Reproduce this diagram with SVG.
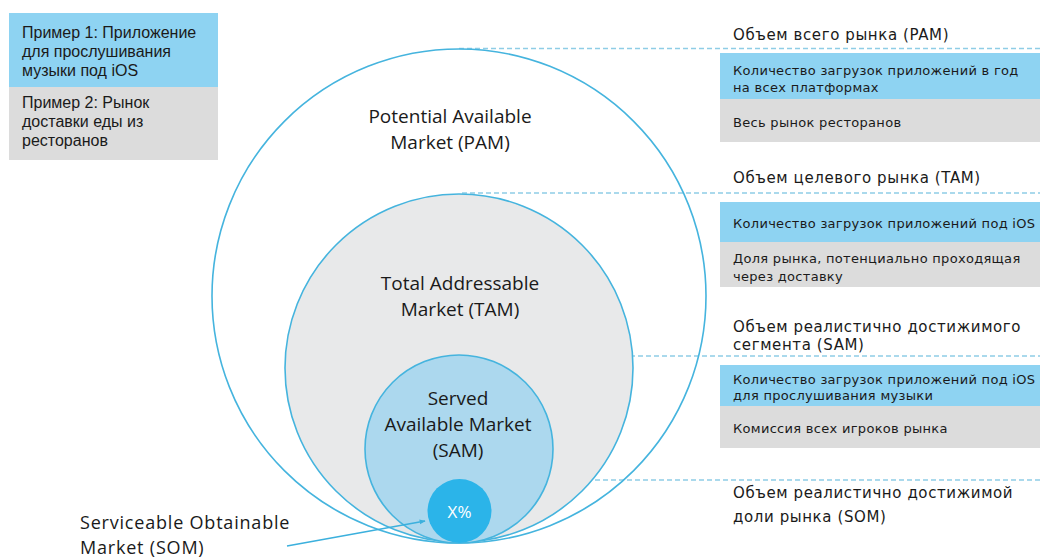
<svg xmlns="http://www.w3.org/2000/svg" width="1040" height="557" viewBox="0 0 1040 557">
<defs>
<style>
.t{font-family:"Open Sans","DejaVu Sans",sans-serif;fill:#1a1a1a}
.r{font-family:"DejaVu Sans","Open Sans",sans-serif;fill:#1a1a1a}
.big{font-size:19px}
.leg{font-family:"Liberation Sans","DejaVu Sans",sans-serif;font-size:16px;fill:#1a1a1a}
.hd{font-size:15px;letter-spacing:0.6px}
.bx{font-size:13px;letter-spacing:0.3px}
.dash{stroke:#8fcde6;stroke-width:1.5;stroke-dasharray:5 3;fill:none}
.ring{stroke:#45b4de;stroke-width:1.6}
.blue{fill:#8ed3f2}
.gray{fill:#dcdcdc}
</style>
<marker id="ah" viewBox="0 0 10 10" refX="9" refY="5" markerWidth="6" markerHeight="6" orient="auto" markerUnits="userSpaceOnUse">
<path d="M0,1 L10,5 L0,9 z" fill="#3bb0dd"/>
</marker>
</defs>
<rect width="1040" height="557" fill="#ffffff"/>

<g id="connectors">
<line class="dash" x1="459" y1="48.5" x2="1040" y2="48.5"/>
<line class="dash" x1="462" y1="193" x2="1040" y2="193"/>
<line class="dash" x1="462" y1="356" x2="1040" y2="356"/>
<line class="dash" x1="459" y1="480" x2="1040" y2="480"/>
</g>

<g id="pam">
<circle class="ring" cx="459" cy="296" r="247" fill="none"/>
<text class="t big" text-anchor="middle" x="450" y="123">Potential Available</text>
<text class="t big" text-anchor="middle" x="450" y="149">Market (PAM)</text>
</g>

<g id="tam">
<circle class="ring" cx="459" cy="368" r="174" fill="#e8e9ea"/>
<text class="t big" text-anchor="middle" x="460" y="290">Total Addressable</text>
<text class="t big" text-anchor="middle" x="460" y="316">Market (TAM)</text>
</g>

<g id="sam">
<circle class="ring" cx="459" cy="449" r="94" fill="#acd8ee"/>
<text class="t big" text-anchor="middle" x="458" y="405">Served</text>
<text class="t big" text-anchor="middle" x="458" y="431">Available Market</text>
<text class="t big" text-anchor="middle" x="458" y="457">(SAM)</text>
</g>

<g id="som">
<circle cx="459.5" cy="511" r="32" fill="#2bb4e9"/>
<text text-anchor="middle" x="459.5" y="518" style="font-family:'Open Sans','DejaVu Sans',sans-serif;font-size:17px;fill:#ffffff">X%</text>
</g>

<g id="som-label">
<text class="t" style="font-size:18px;letter-spacing:0.8px" x="80" y="529">Serviceable Obtainable</text>
<text class="t" style="font-size:18px;letter-spacing:0.8px" x="80" y="554">Market (SOM)</text>
<line x1="287" y1="546" x2="425" y2="521" stroke="#3bb0dd" stroke-width="1.6" marker-end="url(#ah)"/>
</g>

<g id="legend">
<rect class="blue" x="9" y="13" width="209" height="74"/>
<rect class="gray" x="9" y="87" width="209" height="73"/>
<text class="leg" x="22" y="38">Пример 1: Приложение</text>
<text class="leg" x="22" y="57">для прослушивания</text>
<text class="leg" x="22" y="76">музыки под iOS</text>
<text class="leg" x="22" y="108">Пример 2: Рынок</text>
<text class="leg" x="22" y="127">доставки еды из</text>
<text class="leg" x="22" y="146">ресторанов</text>
</g>

<g id="panel-pam">
<text class="r hd" x="733" y="40">Объем всего рынка (PAM)</text>
<rect class="blue" x="720" y="53" width="320" height="46"/>
<rect class="gray" x="720" y="99" width="320" height="43"/>
<text class="r bx" x="733" y="75">Количество загрузок приложений в год</text>
<text class="r bx" x="733" y="92">на всех платформах</text>
<text class="r bx" x="733" y="127">Весь рынок ресторанов</text>
</g>

<g id="panel-tam">
<text class="r hd" x="733" y="183">Объем целевого рынка (TAM)</text>
<rect class="blue" x="720" y="202" width="320" height="40"/>
<rect class="gray" x="720" y="242" width="320" height="45"/>
<text class="r bx" x="733" y="228">Количество загрузок приложений под iOS</text>
<text class="r bx" x="733" y="263">Доля рынка, потенциально проходящая</text>
<text class="r bx" x="733" y="281">через доставку</text>
</g>

<g id="panel-sam">
<text class="r hd" x="733" y="332">Объем реалистично достижимого</text>
<text class="r hd" x="733" y="350">сегмента (SAM)</text>
<rect class="blue" x="720" y="365" width="320" height="41"/>
<rect class="gray" x="720" y="406" width="320" height="42"/>
<text class="r bx" x="733" y="384">Количество загрузок приложений под iOS</text>
<text class="r bx" x="733" y="400">для прослушивания музыки</text>
<text class="r bx" x="733" y="433">Комиссия всех игроков рынка</text>
</g>

<g id="panel-som">
<text class="r hd" x="733" y="498">Объем реалистично достижимой</text>
<text class="r hd" x="733" y="522">доли рынка (SOM)</text>
</g>
</svg>
